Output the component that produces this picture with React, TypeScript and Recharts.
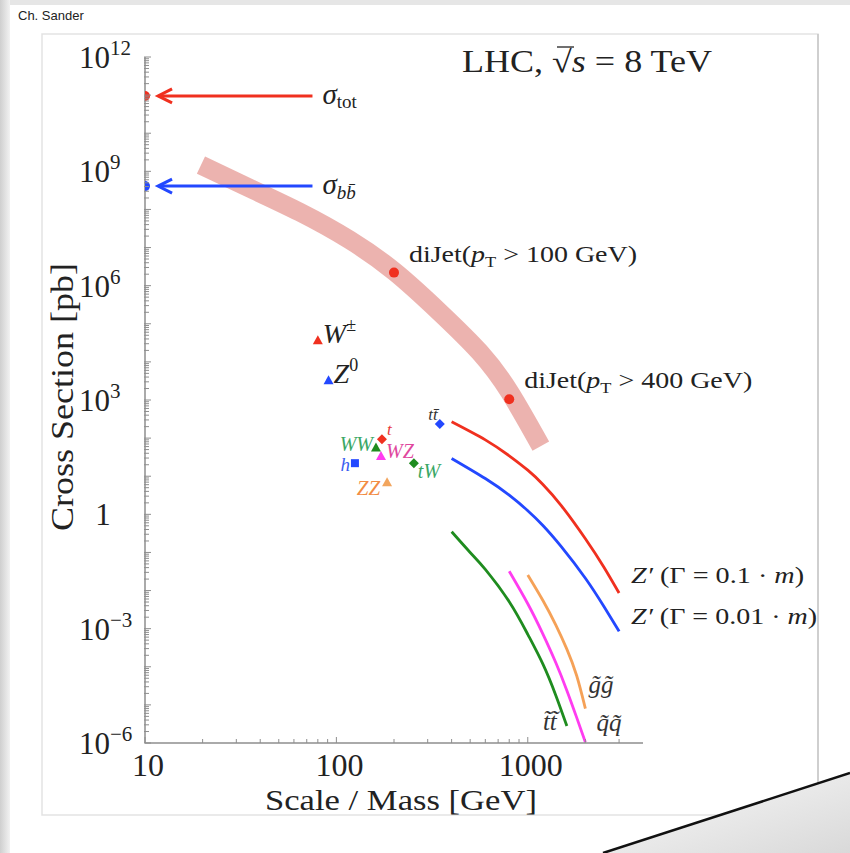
import React from "react";
import {
  ComposedChart,
  Line,
  ReferenceDot,
  ReferenceLine,
  Scatter,
  XAxis,
  YAxis,
} from "recharts";

const serif = '"Liberation Serif", "DejaVu Serif", serif';
const axisGray = "#8e8e8e";

// axis ticks
const xMajorTicks = [10, 100, 1000];
const xMinorTicks = [20, 30, 40, 50, 60, 70, 80, 90, 200, 300, 400, 500, 600, 700, 800, 900, 2000, 3000];
const yDecades = [-6, -5, -4, -3, -2, -1, 0, 1, 2, 3, 4, 5, 6, 7, 8, 9, 10, 11];
const yMantissas = [1, 2, 3, 4, 5, 6, 7, 8, 9];
const yLabelExps = [12, 9, 6, 3, 0, -3, -6];

// total and b-bbar cross sections (arrows to the axis)
const sigmaNames = ["tot", "bb"];
const sigmaXsec = [9.5e10, 4.1e8];
const sigmaArrowFrom = 75; // GeV, tail of arrow
const sigmaArrowTo = 11.7; // GeV, tip of arrow

// diJet band
const dijetScale = [19.6, 35.3, 64.4, 117, 202, 347, 561, 805, 1170];
const dijetBandXsec = [1.46e9, 3.6e8, 8.5e7, 1.6e7, 2.3e6, 2.0e5, 1.8e4, 1.6e3, 62];
const dijetPtCut = [100, 400];
const dijetPtScale = [200, 800];
const dijetPtXsec = [2.2e6, 1.05e3];

// SM processes
const procNames = ["W", "Z", "tt", "t", "WW", "WZ", "h", "tW", "ZZ"];
const procMass = [80, 91, 347, 173, 161, 171, 125, 254, 184];
const procXsec = [3.7e4, 3.3e3, 234, 93, 57, 34, 22, 22, 7];

// Z' curves
const zpMass = [400, 600, 800, 1000, 1200, 1500, 2000, 2500, 3000];
const zpWideXsec = [269, 90, 34.4, 14.4, 6.1, 1.67, 0.229, 0.041, 0.0086];
const zpNarrowXsec = [29.3, 8.7, 3.18, 1.245, 0.51, 0.14, 0.021, 0.0038, 0.00085];

// SUSY pair production
const stopMass = [400, 500, 600, 800, 1000, 1200, 1400, 1600];
const stopXsec = [0.35, 0.1, 0.036, 0.0051, 7.1e-4, 1.17e-4, 1.8e-5, 2.8e-6];
const squarkMass = [800, 1000, 1200, 1400, 1600, 1800, 2000];
const squarkXsec = [0.032, 0.0045, 7.2e-4, 1.29e-4, 2.4e-5, 4.7e-6, 1.05e-6];
const gluinoMass = [1000, 1200, 1400, 1600, 1800, 2000];
const gluinoXsec = [0.0257, 0.0055, 0.00126, 2.9e-4, 5.9e-5, 8e-6];

const pts = (xs: number[], ys: number[]) => xs.map((x, i) => ({ x, y: ys[i] }));

const dijetBand = pts(dijetScale, dijetBandXsec);
const zpWide = pts(zpMass, zpWideXsec);
const zpNarrow = pts(zpMass, zpNarrowXsec);
const stops = pts(stopMass, stopXsec);
const squarks = pts(squarkMass, squarkXsec);
const gluinos = pts(gluinoMass, gluinoXsec);
const procs = procNames.map((name, i) => ({ name, x: procMass[i], y: procXsec[i] }));
const sigmaDots = sigmaNames.map((name, i) => ({ name, x: 10, y: sigmaXsec[i] }));

const yTicks = [
  ...yDecades.flatMap((e) => yMantissas.map((m) => m * Math.pow(10, e))),
  1e12,
];
const xTicks = [...xMajorTicks, ...xMinorTicks].sort((a, b) => a - b);

const colors = {
  red: "#f0301f",
  blue: "#2348ff",
  green: "#1f8c1f",
  magenta: "#ff3cf0",
  orange: "#f5a157",
  band: "#eaaca8",
};

// marker + label style for each process
const procStyle: Record<string, any> = {
  W: { shape: "tri", color: colors.red },
  Z: { shape: "tri", color: colors.blue },
  tt: { shape: "dia", color: colors.blue },
  t: { shape: "dia", color: colors.red },
  WW: { shape: "tri", color: colors.green },
  WZ: { shape: "tri", color: colors.magenta },
  h: { shape: "sq", color: colors.blue },
  tW: { shape: "dia", color: colors.green },
  ZZ: { shape: "tri", color: "#f2a55e" },
};

function ProcLabel({ name, cx, cy }: { name: string; cx: number; cy: number }) {
  const base = { fontFamily: serif, fontStyle: "italic" as const };
  switch (name) {
    case "W":
      return (
        <text x={cx + 5} y={cy + 3} fontSize={28} fill="#222" {...base}>
          W<tspan dy={-12} fontSize={18} fontStyle="normal">±</tspan>
        </text>
      );
    case "Z":
      return (
        <text x={cx + 5} y={cy + 3} fontSize={28} fill="#222" {...base}>
          Z<tspan dy={-12} fontSize={18} fontStyle="normal">0</tspan>
        </text>
      );
    case "tt":
      return (
        <text x={cx - 2} y={cy - 4} fontSize={17} fill="#333" textAnchor="end" {...base}>
          t{"t\u0304"}
        </text>
      );
    case "t":
      return (
        <text x={cx + 5} y={cy - 4} fontSize={17} fill="#e8383a" {...base}>
          t
        </text>
      );
    case "WW":
      return (
        <text x={cx - 3} y={cy + 4} fontSize={20} fill="#3aa765" textAnchor="end" {...base}>
          WW
        </text>
      );
    case "WZ":
      return (
        <text x={cx + 5} y={cy + 2} fontSize={20} fill="#e0479e" {...base}>
          WZ
        </text>
      );
    case "h":
      return (
        <text x={cx - 5} y={cy + 8} fontSize={19} fill="#3a5ef0" textAnchor="end" {...base}>
          h
        </text>
      );
    case "tW":
      return (
        <text x={cx + 4} y={cy + 15} fontSize={20} fill="#3aa765" {...base}>
          tW
        </text>
      );
    case "ZZ":
      return (
        <text x={cx - 7} y={cy + 13} fontSize={21} fill="#f28c44" textAnchor="end" {...base}>
          ZZ
        </text>
      );
    default:
      return null;
  }
}

function ProcMarker(props: any) {
  const { cx, cy, payload } = props;
  const st = procStyle[payload.name];
  let mark = null;
  if (st.shape === "tri") {
    mark = <polygon points={`${cx - 5},${cy + 4} ${cx + 5},${cy + 4} ${cx},${cy - 5}`} fill={st.color} />;
  } else if (st.shape === "dia") {
    mark = <polygon points={`${cx - 5},${cy} ${cx},${cy - 5} ${cx + 5},${cy} ${cx},${cy + 5}`} fill={st.color} />;
  } else {
    mark = <rect x={cx - 4} y={cy - 4} width={8} height={8} fill={st.color} />;
  }
  return (
    <g>
      {mark}
      <ProcLabel name={payload.name} cx={cx} cy={cy} />
    </g>
  );
}

function SigmaDot(props: any) {
  const { cx, cy, payload } = props;
  const c = payload.name === "tot" ? colors.red : colors.blue;
  return <circle cx={cx} cy={cy} r={5} fill={c} />;
}

function Arrow(props: any, color: string, label: React.ReactNode) {
  const { x1, y1, x2 } = props;
  return (
    <g>
      <line x1={x1} y1={y1} x2={x2 + 2} y2={y1} stroke={color} strokeWidth={3} />
      <polyline
        points={`${x2 + 14},${y1 - 7} ${x2},${y1} ${x2 + 14},${y1 + 7}`}
        fill="none"
        stroke={color}
        strokeWidth={3}
      />
      <g transform={`translate(${x1 + 10},${y1 + 8})`}>{label}</g>
    </g>
  );
}

const sigmaTotLabel = (
  <text x={0} y={0} fontFamily={serif} fontSize={29} fill="#222">
    <tspan fontStyle="italic">σ</tspan>
    <tspan dy={4} fontSize={19}>tot</tspan>
  </text>
);
const sigmaBBLabel = (
  <text x={0} y={0} fontFamily={serif} fontSize={29} fill="#222">
    <tspan fontStyle="italic">σ</tspan>
    <tspan dy={5} fontSize={19} fontStyle="italic">{"b" + "b\u0304"}</tspan>
  </text>
);

function DijetLabel(cx: number, cy: number, cut: number) {
  return (
    <text
      x={cx + 15}
      y={cy - 11}
      fontFamily={serif}
      fontSize={23}
      fill="#222"
      textLength={228}
      lengthAdjust="spacingAndGlyphs"
      style={{ whiteSpace: "pre" }}
    >
      diJet(<tspan fontStyle="italic">p</tspan>
      <tspan dy={5} fontSize={15}>T</tspan>
      <tspan dy={-5}>{` > ${cut} GeV)`}</tspan>
    </text>
  );
}

function ZpLabel(cx: number, cy: number, width: string, len: number) {
  return (
    <text
      x={cx + 12}
      y={cy}
      fontFamily={serif}
      fontSize={23}
      fill="#222"
      textLength={len}
      lengthAdjust="spacingAndGlyphs"
      style={{ whiteSpace: "pre" }}
    >
      <tspan fontStyle="italic">Z′</tspan>
      <tspan>{` (Γ = ${width} · `}</tspan>
      <tspan fontStyle="italic">m</tspan>
      <tspan>)</tspan>
    </text>
  );
}

function SusyLabel(x: number, y: number, txt: string, anchor: "start" | "end" = "start") {
  return (
    <text x={x} y={y} fontFamily={serif} fontSize={25} fontStyle="italic" fill="#333" textAnchor={anchor}>
      {txt}
    </text>
  );
}

function YTick(props: any) {
  const { x, y, payload } = props;
  const e = Math.log10(payload.value);
  const re = Math.round(e);
  const decade = Math.abs(e - re) < 1e-6;
  const labelled = decade && yLabelExps.includes(re);
  return (
    <g>
      <line x1={x - 1} x2={x + (decade ? 6 : 4)} y1={y} y2={y} stroke={axisGray} strokeWidth={1} />
      {labelled &&
        (re === 0 ? (
          <text x={x - 42} y={y + 11} textAnchor="middle" fontFamily={serif} fontSize={31} fill="#222">
            1
          </text>
        ) : (
          <text x={x - 66} y={y + 11} fontFamily={serif} fontSize={31} fill="#222">
            10
            <tspan dy={-13} fontSize={21}>
              {re < 0 ? `\u2212${-re}` : `${re}`}
            </tspan>
          </text>
        ))}
    </g>
  );
}

function XTick(props: any) {
  const { x, y, payload } = props;
  const major = xMajorTicks.includes(payload.value);
  return (
    <g>
      <line x1={x} x2={x} y1={y} y2={y - (major ? 6 : 4)} stroke={axisGray} strokeWidth={1} />
      {major && (
        <text x={x + 3} y={y + 33} textAnchor="middle" fontFamily={serif} fontSize={32} fill="#222">
          {payload.value}
        </text>
      )}
    </g>
  );
}

function Background() {
  return (
    <svg width={850} height={853} style={{ position: "absolute", left: 0, top: 0 }}>
      <defs>
        <linearGradient id="leftShade" x1="0" x2="1" y1="0" y2="0">
          <stop offset="0" stopColor="#cfcfcf" />
          <stop offset="1" stopColor="#f2f2f2" />
        </linearGradient>
      </defs>
      <rect x={0} y={0} width={850} height={853} fill="#fff" />
      <rect x={0} y={0} width={850} height={5} fill="#e6e6e6" />
      <rect x={0} y={0} width={10} height={853} fill="url(#leftShade)" />
      <text x={18} y={20} fontFamily='"Liberation Sans", Arial, sans-serif' fontSize={13} fill="#222">
        Ch. Sander
      </text>
      <rect x={42} y={34} width={776} height={781} fill="none" stroke="#e3e3e3" strokeWidth={1.5} />
      <line x1={818} y1={34} x2={818} y2={815} stroke="#c6c6c6" strokeWidth={1.5} />
    </svg>
  );
}

function Foreground() {
  return (
    <svg width={850} height={853} style={{ position: "absolute", left: 0, top: 0, pointerEvents: "none" }}>
      <defs>
        <linearGradient id="curl" x1="0" x2="1" y1="0" y2="1">
          <stop offset="0" stopColor="#fafafa" />
          <stop offset="1" stopColor="#d9d9d9" />
        </linearGradient>
      </defs>
      <text
        x={462}
        y={72}
        fontFamily={serif}
        fontSize={31}
        fill="#222"
        textLength={250}
        lengthAdjust="spacingAndGlyphs"
        style={{ whiteSpace: "pre" }}
      >
        LHC, √<tspan fontStyle="italic">s</tspan>
        <tspan>{" = 8 TeV"}</tspan>
      </text>
      <line x1={557} y1={47} x2={574} y2={47} stroke="#222" strokeWidth={1.3} />
      <text
        transform="translate(73,397) rotate(-90)"
        textAnchor="middle"
        fontFamily={serif}
        fontSize={31}
        fill="#222"
        textLength={268}
        lengthAdjust="spacingAndGlyphs"
      >
        Cross Section [pb]
      </text>
      <text
        x={401}
        y={810}
        textAnchor="middle"
        fontFamily={serif}
        fontSize={30}
        fill="#222"
        textLength={272}
        lengthAdjust="spacingAndGlyphs"
      >
        Scale / Mass [GeV]
      </text>
      <polygon points="603,853 850,773 850,853" fill="url(#curl)" />
      <line x1={603} y1={853} x2={850} y2={773} stroke="#111" strokeWidth={2.5} />
    </svg>
  );
}

export default function App() {
  const lastOf = <T,>(a: T[]) => a[a.length - 1];
  const zpW = lastOf(zpWide);
  const zpN = lastOf(zpNarrow);
  const st = lastOf(stops);
  const sq = lastOf(squarks);
  const gl = lastOf(gluinos);
  return (
    <div style={{ position: "absolute", left: 0, top: 0, width: 850, height: 853, overflow: "hidden" }}>
      <Background />
      <div style={{ position: "absolute", left: 0, top: 0 }}>
        <ComposedChart width={850} height={853} margin={{ top: 57, right: 207, left: 85, bottom: 50 }}>
          <XAxis
            dataKey="x"
            type="number"
            scale="log"
            domain={[10, 4000]}
            ticks={xTicks}
            interval={0}
            tick={(p: any) => <XTick {...p} />}
            tickLine={false}
            tickSize={0}
            tickMargin={0}
            axisLine={{ stroke: axisGray, strokeWidth: 1.5 }}
            height={60}
            allowDataOverflow
          />
          <YAxis
            dataKey="y"
            type="number"
            scale="log"
            domain={[1e-6, 1e12]}
            ticks={yTicks}
            interval={0}
            tick={(p: any) => <YTick {...p} />}
            tickLine={false}
            tickSize={0}
            tickMargin={0}
            axisLine={{ stroke: axisGray, strokeWidth: 1.5 }}
            width={60}
            allowDataOverflow
          />
          <Line
            data={dijetBand}
            dataKey="y"
            type="natural"
            stroke={colors.band}
            strokeOpacity={0.92}
            strokeWidth={19}
            dot={false}
            isAnimationActive={false}
          />
          <Line data={zpWide} dataKey="y" type="natural" stroke={colors.red} strokeWidth={2.8} dot={false} isAnimationActive={false} />
          <Line data={zpNarrow} dataKey="y" type="natural" stroke={colors.blue} strokeWidth={2.8} dot={false} isAnimationActive={false} />
          <Line data={stops} dataKey="y" type="natural" stroke={colors.green} strokeWidth={2.8} dot={false} isAnimationActive={false} />
          <Line data={squarks} dataKey="y" type="natural" stroke={colors.magenta} strokeWidth={2.8} dot={false} isAnimationActive={false} />
          <Line data={gluinos} dataKey="y" type="natural" stroke={colors.orange} strokeWidth={2.8} dot={false} isAnimationActive={false} />
          {sigmaDots.map((d) => (
            <ReferenceLine
              key={d.name}
              segment={[
                { x: sigmaArrowFrom, y: d.y },
                { x: sigmaArrowTo, y: d.y },
              ]}
              shape={(p: any) =>
                Arrow(p, d.name === "tot" ? colors.red : colors.blue, d.name === "tot" ? sigmaTotLabel : sigmaBBLabel)
              }
            />
          ))}
          <Scatter data={sigmaDots} shape={(p: any) => <SigmaDot {...p} />} isAnimationActive={false} />
          {dijetPtScale.map((x, i) => (
            <ReferenceDot
              key={x}
              x={x}
              y={dijetPtXsec[i]}
              shape={(p: any) => (
                <g>
                  <circle cx={p.cx} cy={p.cy} r={5} fill={colors.red} />
                  {DijetLabel(p.cx, p.cy, dijetPtCut[i])}
                </g>
              )}
            />
          ))}
          <Scatter data={procs} shape={(p: any) => <ProcMarker {...p} />} isAnimationActive={false} />
          <ReferenceDot x={zpW.x} y={zpW.y} shape={(p: any) => ZpLabel(p.cx, p.cy - 10, "0.1", 173)} />
          <ReferenceDot x={zpN.x} y={zpN.y} shape={(p: any) => ZpLabel(p.cx, p.cy - 7, "0.01", 186)} />
          <ReferenceDot x={gl.x} y={gl.y} shape={(p: any) => SusyLabel(p.cx + 3, p.cy - 16, "g\u0303g\u0303")} />
          <ReferenceDot x={st.x} y={st.y} shape={(p: any) => SusyLabel(p.cx - 10, p.cy + 4, "t\u0303t\u0303", "end")} />
          <ReferenceDot x={sq.x} y={sq.y} shape={(p: any) => SusyLabel(p.cx + 11, p.cy - 11, "q\u0303q\u0303")} />
        </ComposedChart>
      </div>
      <Foreground />
    </div>
  );
}
